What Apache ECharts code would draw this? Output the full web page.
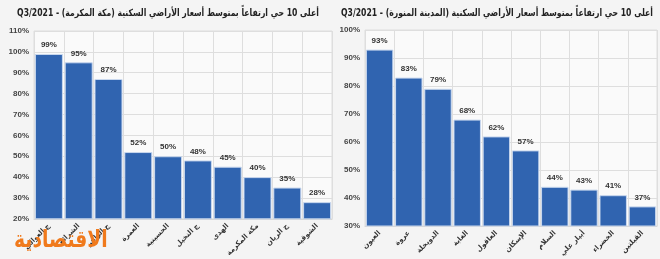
<!DOCTYPE html>
<html>
<head>
<meta charset="utf-8">
<script src="https://cdn.jsdelivr.net/npm/echarts@6/dist/echarts.min.js"></script>
<style>
html,body{margin:0;padding:0;background:#f4f4f4;}
#c{width:660px;height:259px;}
</style>
</head>
<body>
<div id="c"></div>
<script>
const titleLeft = 'أعلى 10 حي ارتفاعاً بمتوسط أسعار الأراضي السكنية (مكة المكرمة) - Q3/2021';
const titleRight = 'أعلى 10 حي ارتفاعاً بمتوسط أسعار الأراضي السكنية (المدينة المنورة) - Q3/2021';
const makkahCategories = ['ج العوالي', 'الشرائع', 'ج الزاهر', 'العمرة', 'الحسينية', 'ج النخيل', 'الهدى', 'مكة المكرمة', 'ج الريان', 'الشوقية'];
const makkahValues = [99, 95, 87, 52, 50, 48, 45, 40, 35, 28];
const madinahCategories = ['العيون', 'عروة', 'الدويخلة', 'الغابة', 'العاقول', 'الإسكان', 'السلام', 'أبيار علي', 'الخضراء', 'القبلتين'];
const madinahValues = [93, 83, 79, 68, 62, 57, 44, 43, 41, 37];
const logoText = 'الاقتصادية';

const AR = '"DejaVu Sans", sans-serif';
const barColor = '#3064b0';
const RLE = '\u202B', PDF = '\u202C';
const chart = echarts.init(document.getElementById('c'), null, {renderer: 'canvas'});

function xAxis(gridIndex, cats) {
  return {
    type: 'category', gridIndex, data: cats,
    axisLine: {show: true, lineStyle: {color: '#d6d6d6'}},
    axisTick: {show: false},
    splitLine: {show: true, lineStyle: {color: '#dedede'}},
    axisLabel: {rotate: 45, fontSize: 7, fontWeight: 'bold', color: '#333', fontFamily: AR, margin: 6, interval: 0}
  };
}
function yAxis(gridIndex, min, max) {
  return {
    type: 'value', gridIndex, min, max, interval: 10,
    axisLine: {show: false}, axisTick: {show: false},
    splitLine: {show: true, lineStyle: {color: '#dedede'}},
    axisLabel: {formatter: '{value}%', fontSize: 8, fontWeight: 'bold', color: '#444', fontFamily: '"Liberation Sans", sans-serif', margin: 5}
  };
}
function bar(i, vals) {
  return {
    type: 'bar', xAxisIndex: i, yAxisIndex: i, data: vals,
    barCategoryGap: '6%',
    itemStyle: {color: barColor, borderColor: '#c9d8ee', borderWidth: 1},
    label: {show: true, position: 'top', formatter: '{c}%', fontSize: 8, fontWeight: 'bold', color: '#333', distance: 5, fontFamily: '"Liberation Sans", sans-serif'}
  };
}
function titleText(x, txt, sx) {
  return {type: 'text', x: x, y: 8, z: 100, scaleX: sx,
    style: {text: RLE + txt + PDF, fontSize: 10, fontWeight: 'bold', fill: '#222', fontFamily: AR, align: 'center', verticalAlign: 'top'}};
}

chart.setOption({
  backgroundColor: '#f4f4f4',
  animation: false,
  grid: [
    {left: 34, right: 328, top: 31, bottom: 36, show: true, backgroundColor: '#fafafa', borderColor: '#dedede'},
    {left: 365, right: 3, top: 30, bottom: 31, show: true, backgroundColor: '#fafafa', borderColor: '#dedede'}
  ],
  xAxis: [xAxis(0, makkahCategories), xAxis(1, madinahCategories)],
  yAxis: [yAxis(0, 20, 110), yAxis(1, 30, 100)],
  series: [bar(0, makkahValues), bar(1, madinahValues)],
  graphic: [
    titleText(168, titleLeft, 0.77),
    titleText(497, titleRight, 0.77),
    {type: 'text', x: 14, y: 229, z: 100, scaleX: 0.78,
      style: {text: logoText, fontSize: 24, fontWeight: 'bold', fill: '#f07a1c', fontFamily: AR, align: 'left', verticalAlign: 'top'}}
  ]
});
</script>
</body>
</html>
